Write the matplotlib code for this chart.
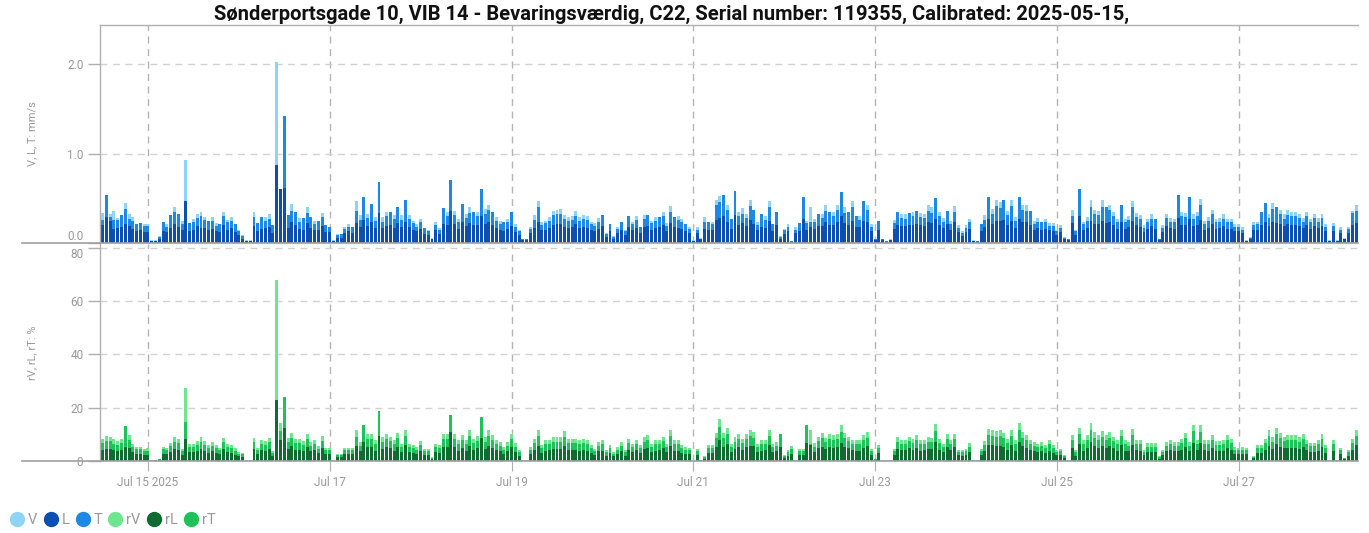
import numpy as np
import pandas as pd
import matplotlib
matplotlib.use('Agg')
import matplotlib.pyplot as plt
from matplotlib.lines import Line2D

plt.rcParams['font.family'] = ['Roboto', 'DejaVu Sans']

# hourly readings, Jul 14 12:00 -> Jul 28 07:00
start = '2025-07-14 12:00'

# vibration velocity, mm/s  (one line per day)
V = [0.34, 0.40, 0.33, 0.36, 0.28, 0.27, 0.45, 0.33, 0.29, 0.18, 0.20, 0.21,
     0.21, 0.03, 0.03, 0.08, 0.20, 0.21, 0.27, 0.40, 0.30, 0.25, 0.93, 0.19, 0.27, 0.33, 0.35, 0.29, 0.22, 0.29, 0.22, 0.18, 0.35, 0.26, 0.29, 0.19,
     0.15, 0.09, 0.03, 0.03, 0.35, 0.20, 0.26, 0.29, 0.32, 0.18, 2.03, 0.58, 0.55, 0.28, 0.44, 0.31, 0.28, 0.25, 0.40, 0.26, 0.25, 0.22, 0.34, 0.18,
     0.16, 0.03, 0.10, 0.09, 0.18, 0.21, 0.16, 0.47, 0.31, 0.45, 0.33, 0.39, 0.29, 0.50, 0.29, 0.35, 0.32, 0.31, 0.35, 0.31, 0.42, 0.31, 0.25, 0.21,
     0.27, 0.15, 0.15, 0.06, 0.23, 0.17, 0.34, 0.35, 0.52, 0.36, 0.27, 0.38, 0.33, 0.40, 0.31, 0.35, 0.45, 0.38, 0.43, 0.31, 0.29, 0.25, 0.20, 0.27,
     0.31, 0.21, 0.15, 0.05, 0.05, 0.18, 0.31, 0.47, 0.23, 0.25, 0.29, 0.36, 0.37, 0.38, 0.31, 0.29, 0.30, 0.36, 0.29, 0.31, 0.30, 0.24, 0.22, 0.28,
     0.27, 0.11, 0.18, 0.08, 0.18, 0.20, 0.15, 0.26, 0.24, 0.30, 0.16, 0.31, 0.27, 0.25, 0.29, 0.26, 0.35, 0.22, 0.41, 0.25, 0.30, 0.27, 0.19, 0.18,
     0.03, 0.18, 0.06, 0.29, 0.21, 0.24, 0.48, 0.53, 0.47, 0.43, 0.24, 0.45, 0.35, 0.39, 0.33, 0.48, 0.33, 0.23, 0.28, 0.30, 0.47, 0.19, 0.31, 0.08,
     0.16, 0.21, 0.02, 0.18, 0.20, 0.42, 0.25, 0.40, 0.27, 0.29, 0.33, 0.42, 0.31, 0.35, 0.43, 0.46, 0.40, 0.31, 0.47, 0.27, 0.30, 0.40, 0.43, 0.21,
     0.05, 0.22, 0.05, 0.02, 0.04, 0.26, 0.31, 0.33, 0.32, 0.30, 0.35, 0.33, 0.34, 0.33, 0.43, 0.40, 0.42, 0.35, 0.28, 0.32, 0.25, 0.41, 0.20, 0.13,
     0.20, 0.27, 0.03, 0.02, 0.19, 0.31, 0.43, 0.38, 0.48, 0.46, 0.41, 0.36, 0.48, 0.29, 0.44, 0.43, 0.42, 0.32, 0.25, 0.28, 0.20, 0.27, 0.22, 0.22,
     0.15, 0.20, 0.07, 0.05, 0.37, 0.15, 0.40, 0.24, 0.29, 0.48, 0.37, 0.36, 0.48, 0.36, 0.43, 0.35, 0.27, 0.36, 0.27, 0.30, 0.47, 0.34, 0.31, 0.20,
     0.27, 0.32, 0.24, 0.05, 0.20, 0.33, 0.28, 0.27, 0.45, 0.35, 0.34, 0.45, 0.32, 0.35, 0.49, 0.25, 0.29, 0.37, 0.27, 0.28, 0.32, 0.27, 0.27, 0.21,
     0.21, 0.18, 0.03, 0.07, 0.24, 0.24, 0.30, 0.38, 0.33, 0.45, 0.35, 0.37, 0.32, 0.37, 0.35, 0.35, 0.33, 0.28, 0.35, 0.27, 0.33, 0.28, 0.33, 0.21,
     0.03, 0.22, 0.03, 0.18, 0.06, 0.18, 0.36, 0.42]

T = [0.26, 0.54, 0.29, 0.26, 0.26, 0.31, 0.38, 0.27, 0.25, 0.21, 0.22, 0.19,
     0.19, 0.02, 0.02, 0.07, 0.23, 0.18, 0.31, 0.35, 0.33, 0.21, 0.30, 0.22, 0.24, 0.28, 0.30, 0.26, 0.25, 0.25, 0.19, 0.21, 0.30, 0.23, 0.25, 0.21,
     0.13, 0.08, 0.02, 0.02, 0.29, 0.22, 0.29, 0.25, 0.27, 0.20, 0.75, 0.50, 1.42, 0.31, 0.36, 0.35, 0.24, 0.28, 0.34, 0.29, 0.21, 0.25, 0.29, 0.20,
     0.18, 0.02, 0.09, 0.10, 0.16, 0.18, 0.18, 0.36, 0.26, 0.52, 0.28, 0.44, 0.25, 0.68, 0.24, 0.30, 0.35, 0.27, 0.40, 0.26, 0.48, 0.27, 0.22, 0.18,
     0.23, 0.17, 0.13, 0.05, 0.20, 0.15, 0.39, 0.30, 0.70, 0.31, 0.23, 0.44, 0.28, 0.34, 0.35, 0.30, 0.60, 0.33, 0.37, 0.35, 0.25, 0.21, 0.23, 0.23,
     0.35, 0.18, 0.13, 0.04, 0.04, 0.16, 0.26, 0.40, 0.20, 0.22, 0.25, 0.31, 0.32, 0.32, 0.27, 0.25, 0.26, 0.30, 0.25, 0.27, 0.26, 0.21, 0.19, 0.24,
     0.31, 0.10, 0.21, 0.07, 0.16, 0.23, 0.13, 0.30, 0.21, 0.26, 0.18, 0.27, 0.31, 0.22, 0.25, 0.29, 0.30, 0.19, 0.35, 0.29, 0.26, 0.23, 0.21, 0.16,
     0.02, 0.15, 0.05, 0.24, 0.24, 0.21, 0.42, 0.46, 0.54, 0.37, 0.27, 0.58, 0.30, 0.33, 0.28, 0.41, 0.37, 0.20, 0.32, 0.26, 0.40, 0.21, 0.35, 0.07,
     0.14, 0.18, 0.02, 0.15, 0.22, 0.52, 0.22, 0.24, 0.23, 0.33, 0.28, 0.36, 0.35, 0.30, 0.37, 0.57, 0.34, 0.35, 0.40, 0.30, 0.26, 0.47, 0.37, 0.18,
     0.04, 0.25, 0.04, 0.02, 0.03, 0.22, 0.35, 0.28, 0.27, 0.34, 0.30, 0.36, 0.29, 0.28, 0.36, 0.34, 0.50, 0.30, 0.24, 0.36, 0.21, 0.35, 0.17, 0.11,
     0.17, 0.23, 0.02, 0.02, 0.21, 0.26, 0.51, 0.32, 0.41, 0.39, 0.48, 0.31, 0.41, 0.25, 0.51, 0.37, 0.36, 0.36, 0.21, 0.24, 0.23, 0.23, 0.19, 0.19,
     0.13, 0.17, 0.06, 0.04, 0.30, 0.13, 0.60, 0.21, 0.25, 0.40, 0.32, 0.31, 0.40, 0.40, 0.37, 0.30, 0.23, 0.43, 0.23, 0.26, 0.40, 0.29, 0.27, 0.17,
     0.23, 0.27, 0.27, 0.04, 0.17, 0.28, 0.24, 0.23, 0.54, 0.30, 0.29, 0.51, 0.27, 0.30, 0.42, 0.21, 0.25, 0.32, 0.23, 0.24, 0.27, 0.23, 0.23, 0.18,
     0.18, 0.15, 0.02, 0.06, 0.20, 0.21, 0.35, 0.45, 0.28, 0.38, 0.40, 0.32, 0.27, 0.31, 0.30, 0.30, 0.28, 0.24, 0.30, 0.23, 0.28, 0.24, 0.28, 0.18,
     0.02, 0.19, 0.02, 0.15, 0.05, 0.16, 0.34, 0.36]

L = [0.20, 0.29, 0.25, 0.16, 0.17, 0.18, 0.21, 0.19, 0.16, 0.13, 0.14, 0.12,
     0.12, 0.02, 0.02, 0.05, 0.13, 0.12, 0.17, 0.21, 0.18, 0.14, 0.47, 0.13, 0.15, 0.19, 0.17, 0.17, 0.14, 0.16, 0.13, 0.12, 0.20, 0.15, 0.17, 0.12,
     0.09, 0.05, 0.02, 0.02, 0.19, 0.13, 0.16, 0.17, 0.18, 0.11, 0.87, 0.61, 0.62, 0.17, 0.24, 0.20, 0.16, 0.15, 0.22, 0.17, 0.14, 0.14, 0.19, 0.12,
     0.12, 0.02, 0.06, 0.06, 0.11, 0.13, 0.11, 0.22, 0.18, 0.26, 0.19, 0.23, 0.17, 0.34, 0.17, 0.19, 0.20, 0.17, 0.22, 0.18, 0.24, 0.18, 0.15, 0.13,
     0.16, 0.10, 0.09, 0.04, 0.14, 0.10, 0.21, 0.20, 0.36, 0.21, 0.16, 0.23, 0.19, 0.22, 0.20, 0.20, 0.30, 0.21, 0.24, 0.20, 0.17, 0.15, 0.13, 0.16,
     0.19, 0.12, 0.09, 0.03, 0.03, 0.11, 0.17, 0.24, 0.14, 0.15, 0.17, 0.20, 0.21, 0.21, 0.18, 0.17, 0.18, 0.21, 0.17, 0.18, 0.17, 0.14, 0.13, 0.16,
     0.19, 0.07, 0.13, 0.05, 0.11, 0.14, 0.09, 0.18, 0.15, 0.17, 0.11, 0.18, 0.19, 0.15, 0.17, 0.18, 0.20, 0.13, 0.22, 0.18, 0.17, 0.16, 0.13, 0.11,
     0.02, 0.11, 0.04, 0.16, 0.15, 0.14, 0.26, 0.28, 0.30, 0.24, 0.16, 0.31, 0.20, 0.22, 0.19, 0.26, 0.21, 0.14, 0.18, 0.17, 0.25, 0.13, 0.20, 0.05,
     0.10, 0.13, 0.01, 0.11, 0.13, 0.27, 0.15, 0.18, 0.16, 0.19, 0.19, 0.23, 0.20, 0.20, 0.24, 0.30, 0.22, 0.20, 0.25, 0.18, 0.18, 0.25, 0.24, 0.13,
     0.03, 0.15, 0.03, 0.01, 0.03, 0.16, 0.20, 0.19, 0.19, 0.20, 0.20, 0.21, 0.20, 0.19, 0.24, 0.22, 0.27, 0.20, 0.17, 0.21, 0.15, 0.23, 0.12, 0.08,
     0.12, 0.16, 0.02, 0.01, 0.13, 0.18, 0.27, 0.21, 0.25, 0.25, 0.26, 0.20, 0.25, 0.17, 0.27, 0.23, 0.23, 0.20, 0.15, 0.17, 0.14, 0.16, 0.14, 0.13,
     0.09, 0.12, 0.04, 0.03, 0.22, 0.09, 0.30, 0.15, 0.17, 0.25, 0.21, 0.21, 0.25, 0.22, 0.24, 0.20, 0.16, 0.23, 0.16, 0.18, 0.25, 0.20, 0.18, 0.12,
     0.16, 0.19, 0.16, 0.03, 0.12, 0.19, 0.17, 0.16, 0.28, 0.20, 0.20, 0.27, 0.19, 0.20, 0.26, 0.15, 0.17, 0.21, 0.16, 0.17, 0.19, 0.16, 0.16, 0.13,
     0.13, 0.11, 0.02, 0.04, 0.15, 0.15, 0.20, 0.24, 0.19, 0.24, 0.22, 0.21, 0.19, 0.21, 0.20, 0.20, 0.19, 0.17, 0.20, 0.16, 0.19, 0.17, 0.19, 0.13,
     0.02, 0.13, 0.02, 0.11, 0.04, 0.11, 0.20, 0.22]

# same readings as % of the limit value
rV = [8.2, 9.4, 9.0, 8.2, 7.5, 8.2, 11.0, 9.8, 6.3, 5.4, 5.3, 4.4,
      4.7, 0.2, 0.3, 0.9, 5.4, 5.0, 6.9, 9.0, 8.2, 4.4, 27.4, 6.3, 6.3, 7.5, 9.0, 7.5, 6.0, 7.2, 5.9, 5.0, 8.6, 6.5, 5.9, 4.7,
      3.5, 3.1, 0.2, 0.2, 8.8, 5.0, 7.8, 7.5, 8.8, 3.8, 68.0, 14.1, 14.0, 8.8, 10.7, 8.4, 8.2, 7.5, 10.3, 7.2, 7.8, 5.7, 9.4, 5.0,
      5.0, 0.2, 2.7, 2.7, 5.0, 5.0, 5.0, 11.7, 7.1, 11.5, 10.2, 10.2, 7.7, 14.5, 9.0, 10.2, 9.2, 7.7, 10.5, 6.5, 11.7, 6.5, 5.9, 5.2,
      7.4, 4.6, 4.6, 1.5, 6.5, 5.9, 10.2, 10.2, 13.0, 10.2, 7.7, 9.6, 7.7, 11.5, 8.4, 9.4, 13.5, 9.0, 11.5, 9.6, 8.0, 7.1, 5.2, 7.1,
      10.2, 6.7, 4.0, 0.2, 0.2, 5.2, 8.4, 11.5, 5.9, 7.7, 8.0, 9.0, 9.0, 9.0, 11.1, 8.4, 8.4, 8.4, 7.7, 8.4, 7.7, 5.9, 4.6, 7.1,
      7.7, 4.0, 5.9, 3.4, 5.2, 7.1, 4.0, 8.4, 6.5, 8.0, 5.9, 9.0, 9.6, 6.5, 7.7, 8.0, 9.2, 6.5, 11.5, 7.7, 7.7, 6.1, 5.2, 5.0,
      0.2, 4.6, 0.5, 1.7, 5.9, 5.9, 10.5, 15.9, 10.5, 12.5, 6.5, 9.0, 10.0, 8.4, 10.2, 11.5, 10.9, 6.5, 7.7, 8.0, 11.7, 6.5, 7.1, 8.5,
      2.1, 4.0, 5.5, 0.2, 4.6, 4.6, 11.0, 11.5, 6.7, 9.2, 10.5, 8.6, 10.2, 9.9, 10.2, 13.4, 10.5, 9.2, 8.0, 7.7, 7.7, 9.6, 10.9, 4.6,
      0.9, 5.9, 0.2, 0.2, 0.2, 4.6, 9.0, 8.0, 8.0, 9.2, 8.4, 9.6, 7.7, 8.0, 9.0, 8.6, 14.0, 8.4, 6.5, 10.2, 8.0, 10.2, 4.2, 4.0,
      4.6, 6.7, 0.2, 0.2, 4.6, 7.4, 12.1, 11.7, 11.2, 11.5, 10.5, 8.4, 11.7, 7.7, 14.2, 10.9, 9.9, 8.0, 7.1, 6.5, 7.1, 5.9, 7.7, 5.9,
      4.2, 4.6, 2.1, 0.2, 9.6, 4.0, 12.5, 7.7, 9.9, 14.4, 10.9, 9.6, 11.1, 9.6, 10.9, 9.2, 7.7, 11.7, 7.7, 7.1, 12.1, 8.0, 7.7, 4.2,
      6.7, 6.7, 6.7, 1.7, 4.2, 7.1, 8.0, 7.1, 7.1, 8.4, 10.5, 7.1, 13.7, 8.0, 13.4, 8.0, 7.7, 9.9, 7.4, 7.4, 7.7, 9.6, 8.4, 5.2,
      5.0, 5.2, 4.9, 0.2, 1.9, 5.9, 6.1, 8.4, 11.5, 9.0, 12.5, 10.5, 9.2, 9.9, 9.6, 9.6, 9.0, 10.2, 8.0, 6.9, 6.9, 7.7, 10.2, 5.9,
      0.2, 7.7, 0.2, 4.9, 1.2, 4.0, 8.4, 11.7]

rT = [6.8, 7.6, 7.4, 6.5, 6.1, 6.8, 13.0, 8.0, 5.2, 4.5, 4.4, 3.6,
      3.8, 0.1, 0.2, 0.7, 4.4, 4.0, 5.6, 7.3, 6.6, 3.6, 14.5, 5.1, 5.1, 6.1, 7.3, 6.1, 4.9, 5.8, 4.8, 4.1, 7.0, 5.3, 4.8, 3.8,
      2.8, 2.5, 0.1, 0.1, 7.1, 4.1, 6.3, 6.1, 7.1, 3.1, 20.0, 11.4, 23.9, 7.1, 8.7, 6.8, 6.6, 6.1, 8.3, 5.8, 6.3, 4.6, 7.6, 4.1,
      4.0, 0.1, 2.2, 2.2, 4.0, 4.1, 4.1, 9.2, 5.8, 13.7, 8.3, 8.2, 6.2, 18.7, 7.3, 8.3, 7.4, 6.2, 8.5, 5.3, 9.5, 5.3, 4.8, 4.2,
      6.0, 3.7, 3.7, 1.2, 5.3, 4.8, 8.3, 8.3, 17.4, 8.3, 6.2, 7.8, 6.2, 9.3, 6.8, 7.6, 16.7, 7.3, 9.3, 7.8, 6.5, 5.8, 4.2, 5.8,
      8.3, 5.4, 3.2, 0.1, 0.1, 4.2, 6.8, 9.3, 4.8, 6.2, 6.5, 7.3, 7.3, 7.3, 9.0, 6.8, 6.8, 6.8, 6.2, 6.8, 6.2, 4.8, 3.7, 5.8,
      6.2, 3.2, 4.8, 2.8, 4.2, 5.8, 3.2, 6.8, 5.3, 6.5, 4.8, 7.3, 7.8, 5.3, 6.2, 6.5, 7.5, 5.3, 9.3, 6.2, 6.2, 4.9, 4.2, 4.0,
      0.1, 3.7, 0.4, 1.4, 4.8, 4.8, 8.5, 12.9, 8.5, 10.1, 5.3, 7.3, 8.1, 6.8, 8.3, 9.3, 8.8, 5.3, 6.2, 6.5, 9.5, 5.3, 5.8, 10.2,
      1.7, 3.2, 4.5, 0.1, 3.7, 3.7, 13.4, 6.5, 5.4, 7.5, 8.5, 7.0, 8.3, 8.0, 8.3, 10.9, 8.5, 7.5, 6.5, 6.2, 6.2, 7.8, 8.8, 3.7,
      0.7, 4.8, 0.1, 0.1, 0.1, 3.7, 7.3, 6.5, 6.5, 7.5, 6.8, 7.8, 6.2, 6.5, 7.3, 7.0, 11.3, 6.8, 5.3, 8.3, 6.5, 8.3, 3.4, 3.2,
      3.7, 5.4, 0.1, 0.1, 3.7, 6.0, 9.8, 9.5, 9.1, 9.3, 8.5, 6.8, 9.5, 6.2, 11.5, 8.8, 8.0, 6.5, 5.8, 5.3, 5.8, 4.8, 6.2, 4.8,
      3.4, 3.7, 1.7, 0.1, 7.8, 3.2, 10.1, 6.2, 8.0, 11.7, 8.8, 7.8, 9.0, 7.8, 8.8, 7.5, 6.2, 9.5, 6.2, 5.8, 9.8, 6.5, 6.2, 3.4,
      5.4, 5.4, 5.4, 1.4, 3.4, 5.8, 6.5, 5.8, 5.8, 6.8, 8.5, 5.8, 11.1, 6.5, 10.9, 6.5, 6.2, 8.0, 6.0, 6.0, 6.2, 7.8, 6.8, 4.2,
      4.0, 4.2, 4.0, 0.1, 1.5, 4.8, 4.9, 6.8, 9.3, 7.3, 10.1, 8.5, 7.5, 8.0, 7.8, 7.8, 7.3, 8.3, 6.5, 5.6, 5.6, 6.2, 8.3, 4.8,
      0.1, 6.2, 0.1, 4.0, 1.0, 3.2, 6.8, 9.5]

rL = [4.0, 4.6, 4.5, 4.2, 3.8, 4.1, 5.2, 4.8, 3.2, 2.7, 2.7, 2.3,
      2.4, 0.1, 0.2, 0.5, 2.8, 2.6, 3.5, 4.6, 4.2, 2.3, 8.2, 3.2, 3.2, 3.8, 4.6, 3.8, 3.1, 3.7, 3.0, 2.6, 4.4, 3.3, 3.0, 2.4,
      1.8, 1.6, 0.1, 0.1, 4.5, 2.6, 4.0, 3.8, 4.5, 1.9, 23.0, 8.0, 12.5, 4.5, 5.5, 4.3, 4.2, 3.8, 5.3, 3.7, 4.0, 2.9, 4.8, 2.6,
      2.6, 0.1, 1.4, 1.4, 2.6, 2.6, 2.6, 5.8, 3.6, 7.0, 5.2, 5.2, 3.9, 9.5, 4.6, 5.2, 4.7, 3.9, 5.4, 3.3, 6.0, 3.3, 3.0, 2.7,
      3.8, 2.3, 2.3, 0.8, 3.3, 3.0, 5.2, 5.2, 11.0, 5.2, 3.9, 4.9, 3.9, 5.8, 4.3, 4.8, 8.5, 4.6, 5.8, 4.9, 4.1, 3.6, 2.6, 3.6,
      5.2, 3.4, 2.0, 0.1, 0.1, 2.6, 4.3, 5.8, 3.0, 3.9, 4.1, 4.6, 4.6, 4.6, 5.6, 4.3, 4.3, 4.3, 3.9, 4.3, 3.9, 3.0, 2.3, 3.6,
      3.9, 2.0, 3.0, 1.7, 2.6, 3.6, 2.0, 4.3, 3.3, 4.1, 3.0, 4.6, 4.9, 3.3, 3.9, 4.1, 4.7, 3.3, 5.8, 3.9, 3.9, 3.1, 2.6, 2.5,
      0.1, 2.3, 0.3, 0.9, 3.0, 3.0, 5.3, 8.0, 5.3, 6.3, 3.3, 4.6, 5.1, 4.3, 5.2, 5.8, 5.5, 3.3, 3.9, 4.1, 5.9, 3.3, 3.6, 5.2,
      1.1, 2.0, 2.8, 0.1, 2.3, 2.3, 6.8, 6.0, 3.4, 4.7, 5.3, 4.4, 5.2, 5.0, 5.2, 6.8, 5.3, 4.7, 4.1, 3.9, 3.9, 4.9, 5.5, 2.3,
      0.5, 3.0, 0.1, 0.1, 0.1, 2.3, 4.6, 4.1, 4.1, 4.7, 4.3, 4.9, 3.9, 4.1, 4.6, 4.4, 7.1, 4.3, 3.3, 5.2, 4.1, 5.2, 2.1, 2.0,
      2.3, 3.4, 0.1, 0.1, 2.3, 3.8, 6.1, 5.9, 5.7, 5.8, 5.3, 4.3, 5.9, 3.9, 7.2, 5.5, 5.0, 4.1, 3.6, 3.3, 3.6, 3.0, 3.9, 3.0,
      2.1, 2.3, 1.1, 0.1, 4.9, 2.0, 6.3, 3.9, 5.0, 7.3, 5.5, 4.9, 5.6, 4.9, 5.5, 4.7, 3.9, 5.9, 3.9, 3.6, 6.1, 4.1, 3.9, 2.1,
      3.4, 3.4, 3.4, 0.9, 2.1, 3.6, 4.1, 3.6, 3.6, 4.3, 5.3, 3.6, 6.9, 4.1, 6.8, 4.1, 3.9, 5.0, 3.8, 3.8, 3.9, 4.9, 4.3, 2.6,
      2.5, 2.6, 2.5, 0.1, 1.0, 3.0, 3.1, 4.3, 5.8, 4.6, 6.3, 5.3, 4.7, 5.0, 4.9, 4.9, 4.6, 5.2, 4.1, 3.5, 3.5, 3.9, 5.2, 3.0,
      0.1, 3.9, 0.1, 2.5, 0.8, 2.0, 4.3, 5.9]

tick_days = ['2025-07-15', '2025-07-17', '2025-07-19', '2025-07-21', '2025-07-23', '2025-07-25', '2025-07-27']
tick_labels = ['Jul 15 2025', 'Jul 17', 'Jul 19', 'Jul 21', 'Jul 23', 'Jul 25', 'Jul 27']

title = ('Sønderportsgade 10, VIB 14 - Bevaringsværdig, C22, '
         'Serial number: 119355, Calibrated: 2025-05-15,')

colors = {'V': '#8fd3f7', 'L': '#0d4fb0', 'T': '#1e88e5',
          'rV': '#6ee68f', 'rL': '#0f6b2f', 'rT': '#1fc25a'}

t = pd.date_range(start, periods=len(V), freq='h')
w = 0.78 / 24
grey = '#9a9a9a'
spine_grey = '#b0b0b0'

fig = plt.figure(figsize=(13.69, 5.33), dpi=100)
ax1 = fig.add_axes([100 / 1369, 1 - 243 / 533, 1258 / 1369, 218 / 533])
ax2 = fig.add_axes([100 / 1369, 1 - 461 / 533, 1258 / 1369, 217 / 533])

# back to front: V, T, L
ax1.bar(t, V, width=w, color=colors['V'], linewidth=0)
ax1.bar(t, T, width=w, color=colors['T'], linewidth=0)
ax1.bar(t, L, width=w, color=colors['L'], linewidth=0)
ax2.bar(t, rV, width=w, color=colors['rV'], linewidth=0)
ax2.bar(t, rT, width=w, color=colors['rT'], linewidth=0)
ax2.bar(t, rL, width=w, color=colors['rL'], linewidth=0)

ticks = pd.to_datetime(tick_days)
xlim = (pd.Timestamp('2025-07-14 11:20'), pd.Timestamp('2025-07-28 07:30'))
for ax in (ax1, ax2):
    ax.set_xlim(*xlim)
    ax.set_xticks(ticks)
    ax.grid(axis='x', color='#b5b5b5', linestyle=(0, (5, 4)), linewidth=1)
    ax.grid(axis='y', color='#d2d2d2', linestyle=(0, (5, 4)), linewidth=1)
    ax.set_axisbelow(True)
    for s in ('right', 'bottom'):
        ax.spines[s].set_visible(False)
    for s in ('left', 'top'):
        ax.spines[s].set_color(spine_grey)
        ax.spines[s].set_linewidth(1)
    ax.tick_params(axis='y', labelcolor=grey, color=spine_grey, length=9,
                   width=1, labelsize=8.5, pad=3)
    ax.yaxis.set_label_coords(-0.050, 0.5)

ax1.set_ylim(0, 2.44)
ax1.set_yticks([0.0, 1.0, 2.0])
ax1.set_yticklabels(['0.0', '1.0', '2.0'])
ax1.tick_params(axis='x', length=0, labelbottom=False)
ax1.set_ylabel('V, L, T: mm/s', color=grey, fontsize=8)
# keep the 0.0 label clear of the lower panel
ax1.yaxis.get_major_ticks()[0].label1.set_verticalalignment('bottom')

ax2.set_ylim(0, 81.5)
ax2.set_yticks([0, 20, 40, 60, 80])
ax2.spines['top'].set_visible(False)
ax2.set_xticklabels(tick_labels)
ax2.tick_params(axis='x', labelcolor=grey, color=spine_grey, length=7,
                labelsize=8.5, pad=4)
ax2.set_ylabel('rV, rL, rT: %', color=grey, fontsize=8)
ax2.yaxis.get_major_ticks()[-1].label1.set_verticalalignment('top')

# long baselines under each panel
for y in (243, 461):
    fig.add_artist(Line2D([22 / 1369, 1358 / 1369], [1 - y / 533, 1 - y / 533],
                          color='#a0a0a0', linewidth=1.2))

fig.text(672 / 1369, 1 - 14 / 533, title, ha='center', va='center',
         fontsize=14.5, fontweight='semibold', color='#111111')

handles = [Line2D([], [], marker='o', linestyle='none', markersize=10,
                  markerfacecolor=colors[k], markeredgecolor=colors[k], label=k)
           for k in ['V', 'L', 'T', 'rV', 'rL', 'rT']]
leg = fig.legend(handles=handles, loc='center left',
                 bbox_to_anchor=(10 / 1369, 1 - 520.5 / 533),
                 ncol=6, frameon=False, borderpad=0, borderaxespad=0,
                 handletextpad=0.25, columnspacing=0.4,
                 fontsize=10.5, handlelength=1.0)
for txt in leg.get_texts():
    txt.set_color(grey)

fig.savefig('out.png', dpi=100)
